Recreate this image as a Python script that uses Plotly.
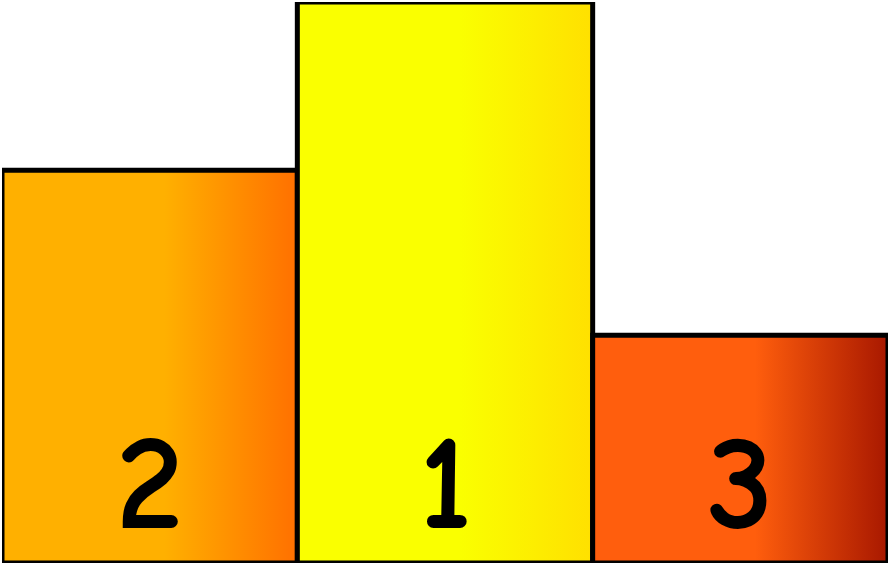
import plotly.graph_objects as go

labels = ["2", "1", "3"]
values = [70, 100, 40.6]
base_colors = ["#FFB000", "#FAFF00", "#FF5E0D"]
end_colors = ["#FF7000", "#FFE000", "#A81800"]

fig = go.Figure()
for i, (lab, v, c0, c1) in enumerate(zip(labels, values, base_colors, end_colors)):
    xs = [i - 0.5, i + 0.5, i + 0.5, i - 0.5, i - 0.5]
    ys = [0, 0, v, v, 0]
    fig.add_trace(go.Scatter(
        x=xs, y=ys, mode="lines", fill="toself",
        fillgradient=dict(type="horizontal",
                          colorscale=[[0, c0], [0.55, c0], [1, c1]]),
        line=dict(color="black", width=5),
        cliponaxis=False, hoverinfo="skip", showlegend=False,
    ))
    fig.add_annotation(x=i, y=0, text="<b>" + lab + "</b>", showarrow=False,
                       xanchor="center", yanchor="bottom", yshift=-1,
                       font=dict(family="Comic Sans MS, Comic Neue, Noto Sans, sans-serif",
                                 size=135, color="black"))

fig.update_layout(
    width=890, height=566,
    margin=dict(l=2, r=2, t=2, b=3),
    plot_bgcolor="white", paper_bgcolor="white",
    xaxis=dict(range=[-0.5, 2.5], visible=False, fixedrange=True),
    yaxis=dict(range=[0, 100], visible=False, fixedrange=True),
)
fig.write_html("out.html")
